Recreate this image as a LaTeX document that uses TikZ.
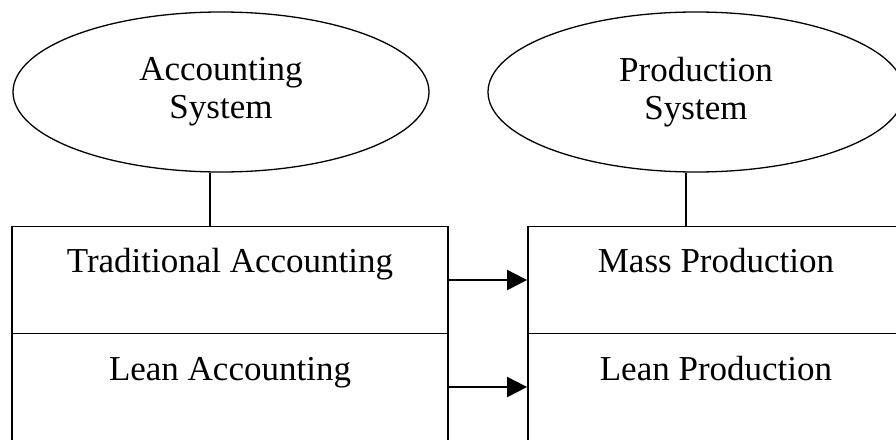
\documentclass[tikz,border=0pt]{standalone}
\usepackage{fontspec}
\setmainfont{Liberation Serif}
\usetikzlibrary{shapes.geometric,arrows.meta,calc}
\begin{document}
\begin{tikzpicture}[x=1pt,y=-1pt,
  sysellipse/.style={ellipse,draw,line width=1.3pt,inner sep=0pt,
    minimum width=416pt,minimum height=160pt,align=center,
    font=\fontsize{35}{38}\selectfont},
  cell/.style={rectangle,draw,line width=1.8pt,inner sep=0pt,
    minimum width=#1,minimum height=107pt},
  celltext/.style={anchor=base,inner sep=0pt,font=\fontsize{35}{38}\selectfont},
  link/.style={line width=1.6pt},
  flow/.style={line width=2pt,-{Triangle[length=20pt,width=20pt]}}]
\useasboundingbox (0,0) rectangle (896,439);
\clip (0,0) rectangle (896,439);

% the two systems
\node[sysellipse] (acc) at (221,92) {Accounting\\System};
\node[sysellipse] (prod) at (696,92) {Production\\System};

% accounting column
\node[cell=436pt] (ta) at (230,280) {};
\node[cell=436pt] (la) at (230,387) {};
% production column
\node[cell=376pt] (mp) at (716,280) {};
\node[cell=376pt] (lp) at (716,387) {};

\node[celltext] (tat) at ($(ta.north)+(0,47)$) {Traditional Accounting};
\node[celltext] (lat) at ($(la.north)+(0,48)$) {Lean Accounting};
\node[celltext] (mpt) at ($(mp.north)+(0,47)$) {Mass Production};
\node[celltext] (lpt) at ($(lp.north)+(0,48)$) {Lean Production};

% ties from each system to its column
\coordinate (acctie) at ($(acc.south)+(-11,0)$);
\coordinate (prodtie) at ($(prod.south)+(-10,0)$);
\draw[link] (acctie) -- (acctie |- ta.north);
\draw[link] (prodtie) -- (prodtie |- mp.north);

% arrows between the columns
\draw[flow] (ta.east) -- (mp.west);
\draw[flow] (la.east) -- (lp.west);
\end{tikzpicture}
\end{document}
